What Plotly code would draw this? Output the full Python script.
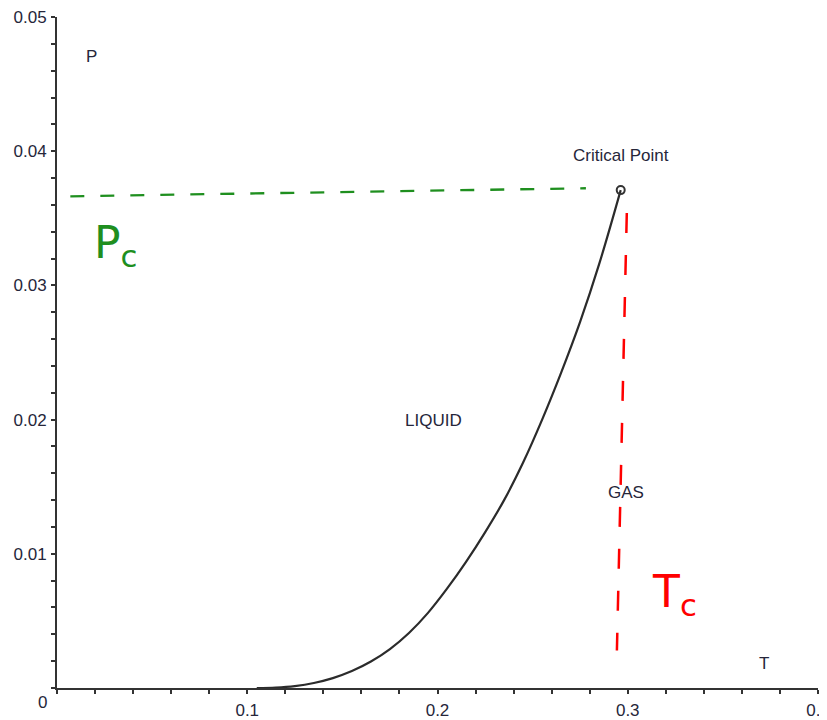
import plotly.graph_objects as go

# Coexistence (vapour-pressure) curve
T_curve = [0.105, 0.115, 0.125, 0.135, 0.145, 0.155, 0.165, 0.175, 0.185, 0.195,
           0.205, 0.215, 0.225, 0.235, 0.245, 0.255, 0.265, 0.275, 0.285, 0.2963]
P_curve = [0.0, 0.000035, 0.000145, 0.00037, 0.000735, 0.00126, 0.00197, 0.0029, 0.0041, 0.0056,
           0.0074, 0.0094, 0.0116, 0.0140, 0.0168, 0.0200, 0.0235, 0.0273, 0.0316, 0.0371]

T_crit = [0.2963]
P_crit = [0.0371]

# hand-drawn guide lines
Pc_line_T = [0.007, 0.278]
Pc_line_P = [0.03664, 0.03724]
Tc_line_T = [0.2995, 0.2943]
Tc_line_P = [0.0354, 0.0028]

x_ticks = [0.1, 0.2, 0.3, 0.4]
x_labels = ["0.1", "0.2", "0.3", "0.4"]
y_ticks = [0.01, 0.02, 0.03, 0.04, 0.05]
y_labels = ["0.01", "0.02", "0.03", "0.04", "0.05"]

txt = "#26263a"
font = "Liberation Sans"
fs = 17

fig = go.Figure()
fig.add_trace(go.Scatter(x=T_curve, y=P_curve, mode="lines",
                         line=dict(color="#2b2b2b", width=2.2, shape="spline", smoothing=1.0),
                         showlegend=False))
fig.add_trace(go.Scatter(x=Pc_line_T, y=Pc_line_P, mode="lines",
                         line=dict(color="#1f8f1f", width=2.3, dash="14px,16px"),
                         showlegend=False))
fig.add_trace(go.Scatter(x=Tc_line_T, y=Tc_line_P, mode="lines",
                         line=dict(color="#ff0000", width=2.5, dash="20px,22px"),
                         showlegend=False))
fig.add_trace(go.Scatter(x=T_crit, y=P_crit, mode="markers",
                         marker=dict(size=8, color="rgba(0,0,0,0)",
                                     line=dict(color="#333333", width=2)),
                         showlegend=False))

ann = [
    dict(x=0.0179, y=0.04702, text="P"),
    dict(x=0.3715, y=0.00186, text="T"),
    dict(x=0.198, y=0.0199, text="LIQUID"),
    dict(x=0.299, y=0.0146, text="GAS"),
    dict(x=0.2965, y=0.0397, text="Critical Point"),
]
for a in ann:
    fig.add_annotation(x=a["x"], y=a["y"], xref="x", yref="y", text=a["text"],
                       showarrow=False, font=dict(family=font, size=fs, color=txt))

fig.add_annotation(x=0.0305, y=0.0330, xref="x", yref="y", text="P<sub>c</sub>",
                   showarrow=False, font=dict(family="DejaVu Sans", size=44, color="#1f8f1f"))
fig.add_annotation(x=0.3245, y=0.0070, xref="x", yref="y", text="T<sub>c</sub>",
                   showarrow=False, font=dict(family="DejaVu Sans", size=44, color="#ff0000"))
fig.add_annotation(x=0, y=0, xref="x", yref="y", text="0", xshift=-15, yshift=-14,
                   showarrow=False, font=dict(family=font, size=fs, color=txt))

# the page body adds an 8px offset, so margins are shifted to keep the reference positions
fig.update_layout(
    width=827, height=720,
    margin=dict(l=49, r=17, t=9, b=40, autoexpand=False),
    paper_bgcolor="white", plot_bgcolor="white",
    font=dict(family=font, size=fs, color=txt),
)
fig.update_xaxes(range=[0, 0.4], tickmode="array", tickvals=x_ticks, ticktext=x_labels,
                 automargin=False, ticklabeloverflow="allow",
                 showgrid=False, zeroline=False, showline=True, linecolor="#333333", linewidth=2,
                 ticks="outside", ticklen=4, tickcolor="#333333", tickwidth=1.5,
                 ticklabelstandoff=2,
                 minor=dict(tickmode="linear", tick0=0, dtick=0.02, ticks="outside", ticklen=4,
                            tickcolor="#333333", tickwidth=1.5, showgrid=False),
                 tickfont=dict(family=font, size=fs, color=txt))
fig.update_yaxes(range=[0, 0.05], tickmode="array", tickvals=y_ticks, ticktext=y_labels,
                 automargin=False, ticklabeloverflow="allow",
                 showgrid=False, zeroline=False, showline=True, linecolor="#333333", linewidth=2,
                 ticks="outside", ticklen=4, tickcolor="#333333", tickwidth=1.5,
                 ticklabelstandoff=1,
                 minor=dict(tickmode="linear", tick0=0, dtick=0.002, ticks="outside", ticklen=4,
                            tickcolor="#333333", tickwidth=1.5, showgrid=False),
                 tickfont=dict(family=font, size=fs, color=txt))

fig.write_html("out.html")
